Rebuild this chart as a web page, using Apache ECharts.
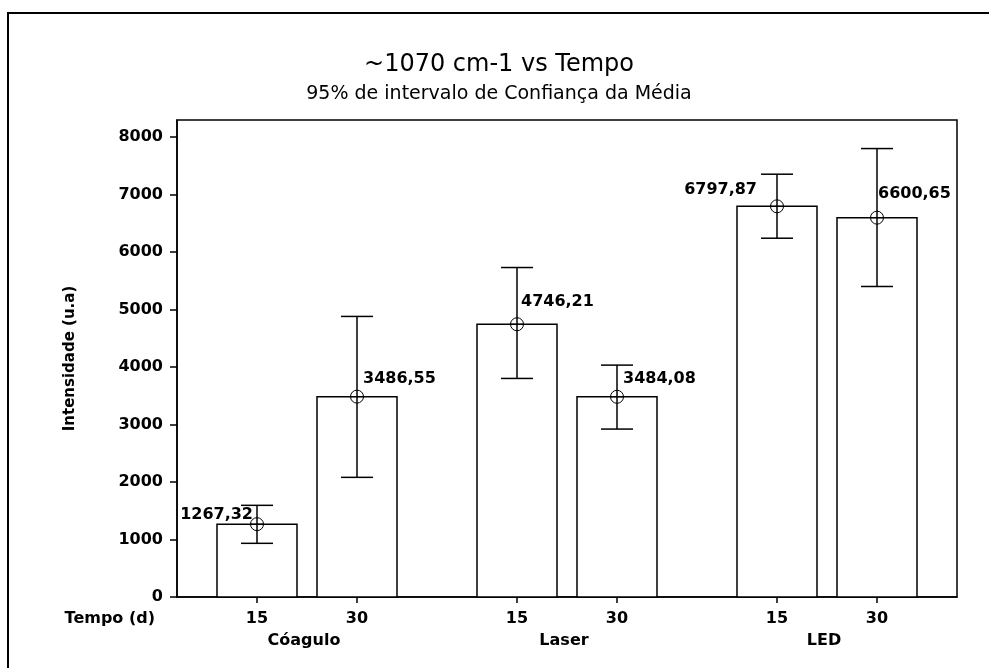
<!DOCTYPE html>
<html>
<head>
<meta charset="utf-8">
<script src="https://cdn.jsdelivr.net/npm/echarts@6/dist/echarts.min.js"></script>
<style>
    html, body { margin: 0; padding: 0; background: #fff; }
    #chart { width: 989px; height: 668px; }
</style>
</head>
<body>
<div id="chart"></div>
<script>
// dados
const groups = ['Cóagulo', 'Laser', 'LED']
const tempos = ['15', '30']
const means = [1267.32, 3486.55, 4746.21, 3484.08, 6797.87, 6600.65]
const ciLower = [934, 2082, 3803, 2922, 6243, 5403]
const ciUpper = [1595, 4882, 5733, 4035, 7357, 7803]
const yTicks = [0, 1000, 2000, 3000, 4000, 5000, 6000, 7000, 8000]

// layout: posição de cada rótulo em relação ao marcador (px)
const labelLayout = [
    { dx: -4, dy: -9, align: 'right' },
    { dx: 6, dy: -18, align: 'left' },
    { dx: 4, dy: -22, align: 'left' },
    { dx: 6, dy: -18, align: 'left' },
    { dx: -20, dy: -16, align: 'right' },
    { dx: 1, dy: -24, align: 'left' }
]

const boldFont = 'DejaVu Sans'
const boldCss = 'bold 16px DejaVu Sans'

// posição no eixo x: barras de 0.8, 1.0 entre barras, 1.6 entre grupos
function xPos(g, t) {
    return 1 + g * 2.6 + t
}

const barData = []
const tickData = []
groups.forEach((g, gi) => {
    tempos.forEach((t, ti) => {
        const i = gi * tempos.length + ti
        barData.push([xPos(gi, ti), means[i], ciLower[i], ciUpper[i], i])
        tickData.push([xPos(gi, ti), 0, t])
    })
})
const groupData = groups.map((g, gi) => [xPos(gi, 0.5), 0, g])

function fmt(v) {
    return v.toFixed(2).replace('.', ',')
}

const chart = echarts.init(document.getElementById('chart'), null, { renderer: 'canvas' })

const option = {
    animation: false,
    backgroundColor: '#fff',
    title: {
        text: '~1070 cm-1 vs Tempo',
        subtext: '95% de intervalo de Confiança da Média',
        left: 494,
        top: 48,
        textAlign: 'center',
        itemGap: 8,
        textStyle: { fontFamily: 'DejaVu Sans', fontSize: 24, fontWeight: 'normal', color: '#000' },
        subtextStyle: { fontFamily: 'DejaVu Sans', fontSize: 19, color: '#000' }
    },
    grid: {
        left: 177, right: 32, top: 120, bottom: 71,
        show: true,
        borderColor: '#000',
        borderWidth: 1.5,
        backgroundColor: 'transparent'
    },
    xAxis: {
        type: 'value',
        min: 0.2,
        max: 8.0,
        axisLine: { show: true, lineStyle: { color: '#000', width: 1.5 } },
        axisTick: { show: false },
        axisLabel: { show: false },
        splitLine: { show: false }
    },
    yAxis: {
        type: 'value',
        min: 0,
        max: 8300,
        interval: 1000,
        name: 'Intensidade (u.a)',
        nameLocation: 'middle',
        nameRotate: 90,
        nameGap: 99,
        nameTextStyle: { fontFamily: boldFont, fontWeight: 'bold', fontSize: 15, color: '#000' },
        axisLine: { show: true, lineStyle: { color: '#000', width: 1.5 } },
        axisTick: { show: true, length: 7, customValues: yTicks, lineStyle: { color: '#000', width: 1.5 } },
        axisLabel: {
            customValues: yTicks,
            formatter: v => String(v),
            margin: 14,
            fontFamily: boldFont, fontWeight: 'bold', fontSize: 16, color: '#000'
        },
        splitLine: { show: false }
    },
    graphic: [
        {
            type: 'rect',
            shape: { x: 8, y: 13, width: 1100, height: 800 },
            style: { fill: null, stroke: '#000', lineWidth: 2 },
            silent: true
        },
        {
            type: 'text',
            x: 155, y: 619,
            style: {
                text: 'Tempo (d)', align: 'right', verticalAlign: 'middle',
                font: boldCss, fill: '#000'
            }
        }
    ],
    series: [
        {
            // barras + intervalo de confiança + marcador
            type: 'custom',
            coordinateSystem: 'cartesian2d',
            data: barData,
            clip: false,
            renderItem: (params, api) => {
                const x = api.value(0)
                const m = api.value(1)
                const lo = api.value(2)
                const hi = api.value(3)
                const idx = api.value(4)
                const p0 = api.coord([x - 0.4, 0])
                const p1 = api.coord([x + 0.4, m])
                const c = api.coord([x, m])
                const pl = api.coord([x, lo])
                const ph = api.coord([x, hi])
                const cap = 16
                const lay = labelLayout[idx]
                const line = { stroke: '#000', lineWidth: 1.5 }
                return {
                    type: 'group',
                    children: [
                        {
                            type: 'rect',
                            shape: { x: p0[0], y: p1[1], width: p1[0] - p0[0], height: p0[1] - p1[1] },
                            style: { fill: '#fff', stroke: '#000', lineWidth: 1.5 }
                        },
                        { type: 'line', shape: { x1: c[0], y1: pl[1], x2: c[0], y2: ph[1] }, style: line },
                        { type: 'line', shape: { x1: c[0] - cap, y1: pl[1], x2: c[0] + cap, y2: pl[1] }, style: line },
                        { type: 'line', shape: { x1: c[0] - cap, y1: ph[1], x2: c[0] + cap, y2: ph[1] }, style: line },
                        { type: 'circle', shape: { cx: c[0], cy: c[1], r: 6.5 }, style: { fill: null, stroke: '#000', lineWidth: 1 } },
                        { type: 'line', shape: { x1: c[0] - 6.5, y1: c[1], x2: c[0] + 6.5, y2: c[1] }, style: { stroke: '#000', lineWidth: 1 } },
                        {
                            type: 'text',
                            x: c[0] + lay.dx,
                            y: c[1] + lay.dy,
                            style: {
                                text: fmt(m), align: lay.align, verticalAlign: 'middle',
                                font: boldCss, fill: '#000'
                            }
                        }
                    ]
                }
            }
        },
        {
            // marcas e rótulos do eixo x (tempo)
            type: 'custom',
            coordinateSystem: 'cartesian2d',
            data: tickData,
            clip: false,
            renderItem: (params, api) => {
                const p = api.coord([api.value(0), 0])
                return {
                    type: 'group',
                    children: [
                        { type: 'line', shape: { x1: p[0], y1: p[1], x2: p[0], y2: p[1] + 6 }, style: { stroke: '#000', lineWidth: 1.5 } },
                        {
                            type: 'text', x: p[0], y: p[1] + 22,
                            style: {
                                text: tickData[params.dataIndex][2], align: 'center', verticalAlign: 'middle',
                                font: boldCss, fill: '#000'
                            }
                        }
                    ]
                }
            }
        },
        {
            // rótulos dos grupos
            type: 'custom',
            coordinateSystem: 'cartesian2d',
            data: groupData,
            clip: false,
            renderItem: (params, api) => {
                const p = api.coord([api.value(0), 0])
                return {
                    type: 'text', x: p[0] - 3, y: p[1] + 44,
                    style: {
                        text: groupData[params.dataIndex][2], align: 'center', verticalAlign: 'middle',
                        font: boldCss, fill: '#000'
                    }
                }
            }
        }
    ]
}

chart.setOption(option)
</script>
</body>
</html>
